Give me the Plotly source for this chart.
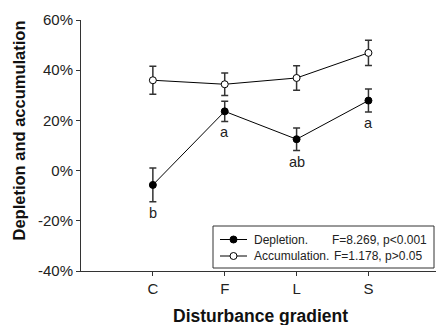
import plotly.graph_objects as go

# Disturbance gradient categories
categories = ["C", "F", "L", "S"]

# Depletion (%) with standard errors and post-hoc letters
depletion = [-5.7, 23.6, 12.5, 27.9]
depletion_err = [6.7, 4.0, 4.5, 4.6]
depletion_letters = ["b", "a", "ab", "a"]

# Accumulation (%) with standard errors
accumulation = [36.0, 34.4, 36.9, 46.9]
accumulation_err = [5.6, 4.5, 4.9, 5.0]

y_ticks = [-40, -20, 0, 20, 40, 60]
y_tick_labels = [f"{v}%" for v in y_ticks]

legend_labels = ["Depletion.", "Accumulation."]
legend_stats = ["F=8.269, p<0.001", "F=1.178, p>0.05"]

W, H = 436, 325
L_M, R_M, T_M, B_M = 81, 0, 20, 54
PW, PH = W - L_M - R_M, H - T_M - B_M


def px_x(p):
    """Pixel column -> paper x."""
    return (p - L_M) / PW


def px_y(p):
    """Pixel row -> paper y."""
    return (H - B_M - p) / PH


xpos = list(range(len(categories)))
font_family = "Liberation Sans, Arial, sans-serif"
err_style = dict(type="data", thickness=1.5, width=3.5, color="#333333")
marker_fills = ["black", "white"]

fig = go.Figure()
for vals, errs, fill, name in zip([depletion, accumulation], [depletion_err, accumulation_err],
                                  marker_fills, legend_labels):
    fig.add_trace(go.Scatter(
        x=xpos, y=vals,
        error_y=dict(array=errs, **err_style),
        mode="lines+markers",
        line=dict(color="black", width=1),
        marker=dict(symbol="circle", size=7, color=fill, line=dict(color="black", width=1)),
        name=name, showlegend=False,
    ))

# Significance letters below the lower error bar of each depletion point
for x, m, e, t in zip(xpos, depletion, depletion_err, depletion_letters):
    fig.add_annotation(x=x, y=m - e, text=t, showarrow=False, yanchor="middle",
                       yshift=-11, font=dict(size=14.5, color="#222222", family=font_family))

# Legend box with line/marker keys and the ANOVA statistics
legend_font = dict(size=12, color="#222222", family=font_family)
fig.add_shape(type="rect", xref="paper", yref="paper",
              x0=px_x(213), x1=px_x(434), y0=px_y(268), y1=px_y(226),
              line=dict(color="#333333", width=1), fillcolor="white", layer="above")
for yy, lab, stat, stat_x, fill in zip([239.5, 256.0], legend_labels, legend_stats,
                                       [330, 332], marker_fills):
    fig.add_shape(type="line", xref="paper", yref="paper",
                  x0=px_x(220), x1=px_x(247), y0=px_y(yy), y1=px_y(yy),
                  line=dict(color="black", width=1), layer="above")
    fig.add_shape(type="circle", xref="paper", yref="paper",
                  x0=px_x(230), x1=px_x(237), y0=px_y(yy + 3.5), y1=px_y(yy - 3.5),
                  line=dict(color="black", width=1), fillcolor=fill, layer="above")
    fig.add_annotation(xref="paper", yref="paper", x=px_x(252), y=px_y(yy), text=lab,
                       showarrow=False, xanchor="left", yanchor="middle", font=legend_font)
    fig.add_annotation(xref="paper", yref="paper", x=px_x(stat_x), y=px_y(yy), text=stat,
                       showarrow=False, xanchor="left", yanchor="middle", font=legend_font)

# Axis titles
fig.add_annotation(xref="paper", yref="paper", x=px_x(18.5), y=px_y(131),
                   text="<b>Depletion and accumulation</b>",
                   textangle=-90, showarrow=False, xanchor="center", yanchor="middle",
                   font=dict(size=16.5, color="#111111", family=font_family))
fig.add_annotation(xref="paper", yref="paper", x=px_x(260), y=px_y(316),
                   text="<b>Disturbance gradient</b>",
                   showarrow=False, xanchor="center", yanchor="middle",
                   font=dict(size=17.5, color="#111111", family=font_family))

axis_common = dict(
    showgrid=False, zeroline=False, showline=True, linecolor="#333333", linewidth=1,
    ticks="outside", ticklen=4, tickcolor="#333333",
    tickfont=dict(size=15, color="#222222"),
)

fig.update_layout(
    width=W, height=H,
    margin=dict(l=L_M, r=R_M, t=T_M, b=B_M),
    paper_bgcolor="white", plot_bgcolor="white",
    font=dict(family=font_family, color="#222222", size=15),
    showlegend=False,
    xaxis=dict(range=[-1, 3.94], tickvals=xpos, ticktext=categories, **axis_common),
    yaxis=dict(range=[-40, 60], tickvals=y_ticks, ticktext=y_tick_labels, **axis_common),
)

fig.write_html("out.html")
